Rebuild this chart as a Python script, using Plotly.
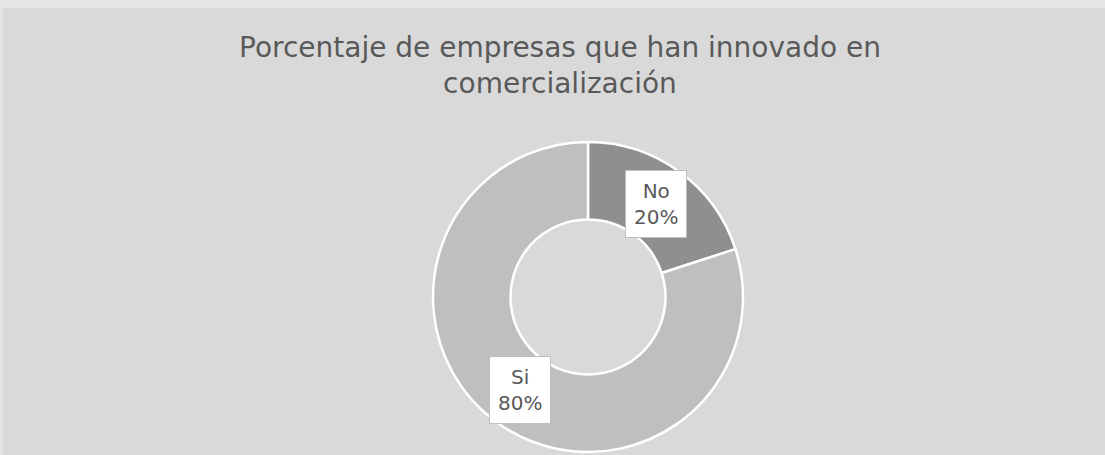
import math
import plotly.graph_objects as go

categories = ["No", "Si"]
values = [20, 80]
colors = ["#8f8f8f", "#bfbfbf"]
title_text = "Porcentaje de empresas que han innovado en<br>comercialización"

W, H = 1105, 455
cx, cy, R = 588, 297, 155  # pie centre / radius in px
label_r = 0.742

fig = go.Figure(go.Pie(
    labels=categories, values=values, hole=0.5, sort=False,
    direction="clockwise", rotation=0, textinfo="none",
    marker=dict(colors=colors, line=dict(color="white", width=2.5)),
    domain=dict(x=[(cx - R) / W, (cx + R) / W], y=[(H - cy - R) / H, (H - cy + R) / H]),
    hoverinfo="label+percent", showlegend=False,
))

total = sum(values)
cum = 0
annotations = []
for cat, v in zip(categories, values):
    mid = (cum + v / 2) / total * 2 * math.pi
    cum += v
    px = cx + label_r * R * math.sin(mid)
    py = cy - label_r * R * math.cos(mid)
    annotations.append(dict(
        x=px / W, y=1 - py / H, xref="paper", yref="paper",
        text=f"{cat}<br>{round(v / total * 100)}%", showarrow=False,
        font=dict(family="DejaVu Sans", size=20, color="#595959"),
        bgcolor="white", bordercolor="#bfbfbf", borderwidth=1, borderpad=8,
        xanchor="center", yanchor="middle", align="center",
    ))

annotations.append(dict(
    x=560 / W, y=1 - 29 / H, xref="paper", yref="paper", text=title_text,
    showarrow=False, xanchor="center", yanchor="top", align="center",
    font=dict(family="DejaVu Sans", size=28, color="#595959"),
))

fig.update_layout(
    width=W, height=H, margin=dict(l=0, r=0, t=0, b=0),
    paper_bgcolor="#e5e5e5",
    shapes=[dict(type="rect", xref="paper", yref="paper", x0=3 / W, x1=1, y0=0, y1=1 - 8 / H,
                 fillcolor="#d9d9d9", line=dict(width=0), layer="below")],
    annotations=annotations,
)

fig.write_html("out.html", config={"displayModeBar": False},
               post_script="document.body.style.margin='0';document.body.style.overflow='hidden';")
